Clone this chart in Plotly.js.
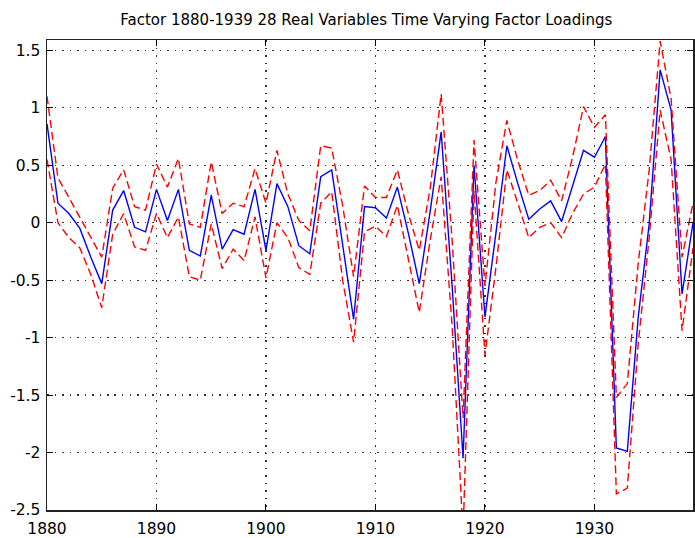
<!DOCTYPE html>
<html>
<head>
<meta charset="utf-8">
<script src="https://cdn.plot.ly/plotly-3.0.1.min.js"></script>
<style>html,body{margin:0;padding:0;background:#fff}#chart{width:695px;height:538px}</style>
</head>
<body>
<div id="chart"></div>
<script>
const years = [];
for (let y = 1880; y <= 1939; y++) years.push(y);

const loading = [0.86,0.17,0.08,-0.05,-0.30,-0.53,0.11,0.28,-0.04,-0.08,
  0.29,0.02,0.29,-0.24,-0.29,0.24,-0.23,-0.06,-0.10,0.29,
  -0.24,0.34,0.14,-0.20,-0.27,0.40,0.46,-0.19,-0.84,0.14,
  0.13,0.04,0.31,-0.09,-0.53,0.10,0.79,-0.55,-2.05,0.50,
  -0.82,-0.09,0.67,0.34,0.03,0.12,0.19,0.01,0.32,0.63,
  0.57,0.75,-1.96,-1.99,-0.82,-0.01,1.33,0.98,-0.62,0.00];

const upper = [1.10,0.39,0.22,0.05,-0.13,-0.30,0.30,0.46,0.14,0.11,
  0.51,0.31,0.56,-0.01,-0.04,0.53,0.08,0.17,0.14,0.47,
  0.17,0.63,0.25,0.02,-0.07,0.67,0.65,0.15,-0.47,0.32,
  0.22,0.22,0.46,0.08,-0.24,0.30,1.12,-0.15,-1.70,0.72,
  -0.55,0.35,0.89,0.54,0.24,0.28,0.37,0.19,0.57,1.01,
  0.83,0.94,-1.52,-1.40,-0.35,0.46,1.58,1.08,-0.30,0.17];

const lower = [0.55,0.00,-0.13,-0.22,-0.45,-0.74,-0.10,0.08,-0.21,-0.24,
  0.08,-0.13,0.05,-0.47,-0.50,-0.01,-0.40,-0.23,-0.33,0.05,
  -0.48,0.00,-0.13,-0.39,-0.45,0.17,0.27,-0.50,-1.04,-0.08,
  -0.03,-0.12,0.15,-0.30,-0.78,-0.15,0.40,-0.90,-2.70,0.28,
  -1.15,-0.39,0.46,0.17,-0.13,-0.04,0.00,-0.13,0.08,0.25,
  0.31,0.51,-2.36,-2.31,-1.05,-0.13,0.98,0.55,-0.94,-0.22];

const xTickVals = [1880,1890,1900,1910,1920,1930];
const xTickText = ['1880','1890','1900','1910','1920','1930'];
const yTickVals = [-2.5,-2,-1.5,-1,-0.5,0,0.5,1,1.5];
const yTickText = ['-2.5','-2','-1.5','-1','-0.5','0','0.5','1','1.5'];

const font = 'DejaVu Sans, Liberation Sans, sans-serif';
const traces = [
  {x: years, y: loading, type: 'scatter', mode: 'lines',
   line: {color: '#0000ff', width: 1.4}, hoverinfo: 'skip'},
  {x: years, y: upper, type: 'scatter', mode: 'lines',
   line: {color: '#ff0000', width: 1.4, dash: '8px,4px'}, hoverinfo: 'skip'},
  {x: years, y: lower, type: 'scatter', mode: 'lines',
   line: {color: '#ff0000', width: 1.4, dash: '8px,4px'}, hoverinfo: 'skip'}
];

const axisCommon = {
  showline: true, linecolor: '#222', linewidth: 1.5, mirror: 'ticks',
  ticks: 'inside', ticklen: 6, tickcolor: '#000', tickwidth: 1,
  showgrid: true, gridcolor: '#333', gridwidth: 1.2, griddash: '1.5px,6px',
  zeroline: false, tickfont: {family: font, size: 15.5, color: '#000'},
  tickmode: 'array'
};

const layout = {
  width: 695, height: 538,
  margin: {l: 47, r: 2, t: 40, b: 28},
  paper_bgcolor: '#fff', plot_bgcolor: '#fff',
  showlegend: false,
  title: {text: 'Factor 1880-1939 28 Real Variables Time Varying Factor Loadings',
    font: {family: font, size: 15, color: '#000'}, x: 0.527, xanchor: 'center', y: 0.963, yanchor: 'middle'},
  xaxis: Object.assign({}, axisCommon, {range: [1880, 1939], tickvals: xTickVals, ticktext: xTickText, ticklabelstandoff: 4}),
  yaxis: Object.assign({}, axisCommon, {range: [-2.5, 1.59], tickvals: yTickVals, ticktext: yTickText, ticklabelstandoff: 2})
};

Plotly.newPlot('chart', traces, layout, {staticPlot: true, displayModeBar: false});
</script>
</body>
</html>
